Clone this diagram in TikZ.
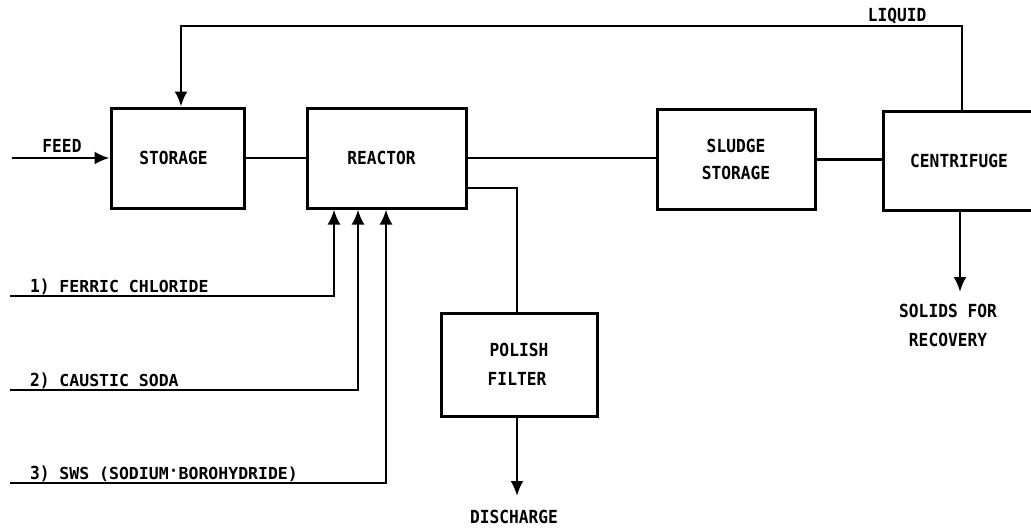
\documentclass[tikz,border=0pt]{standalone}
\usepackage{fontspec}
\setmonofont[FakeStretch=0.9]{DejaVu Sans Mono}
\newfontfamily\widemono{DejaVu Sans Mono}
\usetikzlibrary{arrows.meta}
\newcommand\smtxt{\widemono\bfseries\fontsize{16.5}{20}\selectfont}
\begin{document}
\begin{tikzpicture}[x=1pt,y=-1pt,
  every node/.style={font=\ttfamily\bfseries\fontsize{18}{22}\selectfont, text=black},
  unit/.style={draw, line width=3pt, minimum width=#1, align=center, inner sep=0pt},
  flow/.style={line width=2.5pt},
  arr/.style={flow, -{Latex[length=15pt,width=13pt]}},
  lbl/.style={inner sep=0pt, align=center}]
\useasboundingbox (0,0) rectangle (1031,528);
% units
\node[unit=133pt, minimum height=100pt] (storage) at (177.5,158) {STORAGE\hspace*{8pt}};
\node[unit=159pt, minimum height=100pt] (reactor) at (386.5,158) {REACTOR\hspace*{10pt}};
\node[unit=158pt, minimum height=100pt] (sludge) at (736,159.5) {SLUDGE\\[5pt]STORAGE};
\node[unit=162pt, minimum height=99pt] (centrifuge) at (964,160.5) {CENTRIFUGE\hspace*{10pt}};
\node[unit=156pt, minimum height=103pt] (polish) at (519,364.5) {POLISH\\[7pt]FILTER\hspace*{4pt}};
% labels
\node[lbl] (feed) at (62,146) {FEED};
\node[lbl] (liquid) at (897,16) {LIQUID};
\node[lbl] (discharge) at (514,517) {DISCHARGE};
\node[lbl] (solids) at (948,325) {SOLIDS FOR\\[7pt]RECOVERY};
\node[lbl, anchor=west] (fc) at (30,287) {1) {\smtxt FERRIC CHLORIDE}};
\node[lbl, anchor=west] (cs) at (30,381) {2) {\smtxt CAUSTIC SODA}};
\node[lbl, anchor=west] (sws) at (30,474) {3) {\smtxt SWS (SODIUM\raisebox{0.3ex}{·}BOROHYDRIDE)}};
% coordinates
\coordinate (feedin) at (12,158);
\coordinate (toprun) at (0,26);
\coordinate (in1) at (10,296);
\coordinate (in2) at (10,390);
\coordinate (in3) at (10,483);
\coordinate (dtip) at (517,496);
\coordinate (stip) at (960,292);
% connectors
\draw[arr] (feedin) -- (storage.west);
\draw[flow] (storage.east) -- (reactor.west);
\draw[flow] (reactor.east) -- (sludge.west |- reactor.east);
\draw[flow] (sludge.east) -- (centrifuge.west |- sludge.east);
\draw[flow] ([yshift=-30pt]reactor.east) -| ([xshift=-2pt]polish.north);
\draw[arr] ([xshift=-2pt]polish.south) -- (dtip);
\draw[arr] ([xshift=-2pt]centrifuge.north) -- ([xshift=-2pt]centrifuge.north |- toprun) -| ([xshift=3.5pt]storage.north);
\draw[arr] ([xshift=-4pt]centrifuge.south) -- (stip);
\draw[arr] (in1) -| ([xshift=-52.5pt]reactor.south);
\draw[arr] (in2) -| ([xshift=-28.5pt]reactor.south);
\draw[arr] (in3) -| ([xshift=-0.5pt]reactor.south);
\end{tikzpicture}
\end{document}
